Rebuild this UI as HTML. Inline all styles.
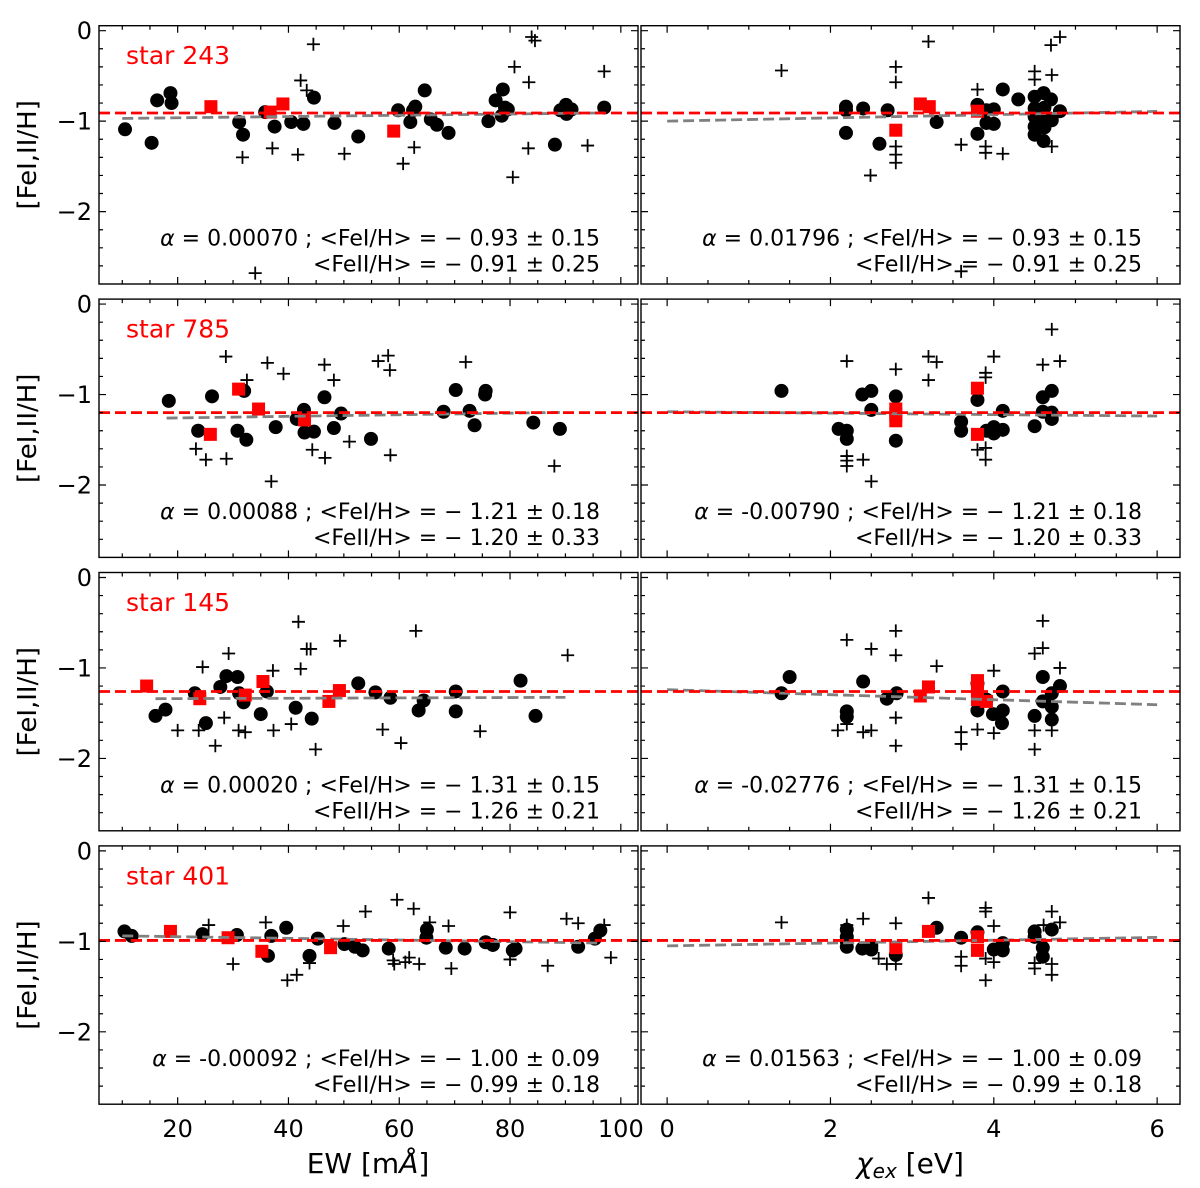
<!DOCTYPE html>
<html><head><meta charset="utf-8">
<style>
html,body{margin:0;padding:0;background:#fff;}
svg{display:block;font-family:"DejaVu Sans","Liberation Sans",sans-serif;}
</style></head>
<body>
<svg id="chart" width="1200" height="1188" viewBox="0 0 1200 1188" xmlns="http://www.w3.org/2000/svg"></svg>
<script>
// ---- data: star 243 ----
const p1_circX=[10.5,15.3,16.3,18.7,18.9,31.1,31.8,35.8,37.5,40.5,42.7,44.6,48.3,52.6,59.8,62.0,62.5,62.9,64.6,65.7,66.8,68.9,76.1,77.4,78.7,78.5,79.1,79.6,88.1,89.1,90.1,90.2,91.1,97];
const p1_circY=[-1.09,-1.24,-0.77,-0.69,-0.80,-1.01,-1.15,-0.90,-1.06,-1.01,-1.03,-0.74,-1.02,-1.17,-0.88,-1.01,-0.88,-0.84,-0.66,-0.98,-1.04,-1.13,-1.00,-0.77,-0.65,-0.94,-0.85,-0.87,-1.26,-0.88,-0.82,-0.92,-0.87,-0.85];
const p1_sqX=[26.0,36.7,39.0,59.0];
const p1_sqY=[-0.84,-0.90,-0.81,-1.11];
const p1_plX=[44.5,42.2,43.3,31.7,37.1,41.7,50.1,34.0,62.7,60.7,80.8,83.4,83.9,84.5,83.3,80.5,94.0,97];
const p1_plY=[-0.15,-0.55,-0.66,-1.40,-1.30,-1.37,-1.36,-2.68,-1.29,-1.47,-0.40,-0.57,-0.07,-0.11,-1.30,-1.62,-1.27,-0.45];
const p2_circX=[2.19,2.19,2.40,2.19,2.60,2.70,3.30,3.80,3.80,3.91,3.91,4.00,4.00,4.11,4.30,4.50,4.61,4.70,4.50,4.62,4.81,4.50,4.62,4.71,4.50,4.62,4.50,4.61,4.53];
const p2_circY=[-0.84,-0.88,-0.86,-1.13,-1.25,-0.88,-1.01,-0.82,-1.14,-0.88,-1.02,-0.87,-1.03,-0.65,-0.76,-0.73,-0.69,-0.76,-0.86,-0.85,-0.89,-0.95,-0.97,-0.99,-1.06,-1.07,-1.15,-1.22,-1.00];
const p2_sqX=[3.10,3.21,2.80,3.80];
const p2_sqY=[-0.81,-0.84,-1.10,-0.89];
const p2_plX=[1.40,2.80,2.80,2.80,2.80,2.80,2.49,3.20,3.60,3.80,3.90,3.90,4.11,3.60,4.50,4.50,4.70,4.81,4.71,4.71];
const p2_plY=[-0.44,-0.40,-0.57,-1.28,-1.37,-1.46,-1.60,-0.12,-1.26,-0.65,-1.28,-1.35,-1.36,-2.66,-0.45,-0.54,-0.16,-0.07,-0.49,-1.28];
// ---- star 785 ----
const p3_circX=[18.4,23.7,26.2,30.8,32.0,32.4,37.7,41.5,42.8,42.9,44.6,46.5,48.2,49.5,54.9,68.0,70.2,72.7,73.6,75.6,75.5,84.2,89.0];
const p3_circY=[-1.07,-1.40,-1.02,-1.40,-0.96,-1.50,-1.36,-1.27,-1.17,-1.42,-1.41,-1.03,-1.37,-1.21,-1.49,-1.19,-0.95,-1.18,-1.34,-0.96,-1.00,-1.31,-1.38];
const p3_sqX=[31.0,34.6,42.9,25.9];
const p3_sqY=[-0.94,-1.16,-1.28,-1.44];
const p3_plX=[28.7,32.5,36.2,39.1,46.5,48.2,56.2,58.0,58.3,72.0,23.3,25.1,28.8,36.9,44.3,46.6,51.0,58.4,88.0];
const p3_plY=[-0.58,-0.84,-0.65,-0.77,-0.67,-0.84,-0.63,-0.57,-0.73,-0.64,-1.60,-1.72,-1.71,-1.96,-1.61,-1.70,-1.52,-1.67,-1.79];
const p4_circX=[1.40,2.10,2.20,2.20,2.39,2.50,2.50,2.80,2.80,3.60,3.60,3.80,3.91,4.00,4.00,4.11,4.11,4.50,4.60,4.71,4.60,4.71,4.71];
const p4_circY=[-0.96,-1.38,-1.40,-1.49,-1.00,-0.96,-1.17,-1.02,-1.51,-1.30,-1.40,-1.06,-1.40,-1.36,-1.43,-1.39,-1.18,-1.35,-1.03,-0.96,-1.19,-1.20,-1.27];
const p4_sqX=[2.80,2.80,2.80,3.80,3.80];
const p4_sqY=[-1.16,-1.22,-1.29,-0.93,-1.44];
const p4_plX=[2.20,2.80,3.20,3.30,3.20,3.90,3.90,4.00,4.71,4.60,4.81,2.20,2.20,2.20,2.40,2.50,3.80,3.90,3.90];
const p4_plY=[-0.63,-0.72,-0.58,-0.64,-0.84,-0.76,-0.81,-0.58,-0.28,-0.67,-0.63,-1.68,-1.73,-1.79,-1.72,-1.96,-1.61,-1.59,-1.72];
// ---- star 145 ----
const p5_circX=[16.0,17.8,23.1,25.1,27.7,28.8,30.8,31.1,31.9,35.0,36.1,41.3,44.2,52.6,55.7,58.4,63.5,64.4,70.2,70.2,81.9,84.6];
const p5_circY=[-1.53,-1.46,-1.28,-1.61,-1.21,-1.09,-1.10,-1.28,-1.38,-1.51,-1.26,-1.44,-1.56,-1.17,-1.27,-1.33,-1.47,-1.36,-1.26,-1.48,-1.14,-1.53];
const p5_sqX=[14.4,24.0,32.2,35.4,47.3,49.2];
const p5_sqY=[-1.20,-1.34,-1.30,-1.15,-1.37,-1.25];
const p5_plX=[20.0,23.8,24.5,29.2,26.8,28.4,31.0,32.2,37.2,37.3,40.5,41.8,42.2,43.3,44.0,44.9,49.3,57.0,60.3,63.0,74.6,90.4];
const p5_plY=[-1.69,-1.69,-0.99,-0.84,-1.86,-1.55,-1.69,-1.71,-1.03,-1.69,-1.62,-0.49,-1.01,-0.79,-0.79,-1.90,-0.70,-1.68,-1.83,-0.59,-1.70,-0.86];
const p6_circX=[1.40,1.50,2.20,2.20,2.40,2.69,2.81,3.80,3.80,3.91,3.99,4.11,4.11,4.10,4.50,4.60,4.60,4.71,4.81,4.71,4.71];
const p6_circY=[-1.28,-1.10,-1.48,-1.54,-1.15,-1.34,-1.28,-1.17,-1.47,-1.35,-1.51,-1.26,-1.47,-1.61,-1.53,-1.10,-1.37,-1.28,-1.20,-1.43,-1.57];
const p6_sqX=[3.10,3.20,3.80,3.80,3.80,3.91];
const p6_sqY=[-1.31,-1.21,-1.14,-1.25,-1.35,-1.37];
const p6_plX=[2.20,2.09,2.20,2.50,2.40,2.50,2.80,2.80,2.80,2.80,3.30,3.60,3.60,3.80,4.00,4.00,4.50,4.60,4.60,4.50,4.50,4.71,4.81];
const p6_plY=[-0.69,-1.69,-1.62,-0.79,-1.71,-1.69,-0.59,-0.86,-1.55,-1.86,-0.98,-1.71,-1.84,-1.68,-1.03,-1.72,-0.84,-0.48,-0.78,-1.69,-1.90,-1.69,-1.00];
// ---- star 401 ----
const p7_circX=[10.4,11.7,24.5,30.7,36.9,36.3,39.6,43.8,45.3,50.1,52.0,53.4,58.1,65.0,64.9,68.4,71.8,75.6,76.9,80.5,81.0,92.3,95.3,96.3];
const p7_circY=[-0.89,-0.94,-0.92,-0.93,-0.94,-1.16,-0.85,-1.16,-0.97,-1.03,-1.06,-1.10,-1.08,-0.87,-0.96,-1.07,-1.08,-1.01,-1.04,-1.10,-1.08,-1.06,-0.97,-0.88];
const p7_sqX=[18.7,29.1,35.2,47.6];
const p7_sqY=[-0.89,-0.96,-1.11,-1.07];
const p7_plX=[25.6,30.0,35.9,39.8,41.5,43.8,49.9,53.9,59.6,58.9,59.1,61.1,61.8,63.6,62.6,65.5,68.9,69.4,80.0,80.0,86.8,90.2,92.3,97.0,98.2];
const p7_plY=[-0.82,-1.25,-0.79,-1.43,-1.37,-1.24,-0.83,-0.67,-0.54,-1.21,-1.25,-1.23,-1.18,-1.25,-0.64,-0.79,-0.83,-1.30,-0.68,-1.20,-1.27,-0.75,-0.80,-0.82,-1.18];
const p8_circX=[2.20,2.20,2.20,2.20,2.39,2.50,2.50,2.80,3.30,3.60,3.80,4.00,4.11,4.11,4.50,4.50,4.60,4.60,4.71];
const p8_circY=[-0.87,-0.95,-1.00,-1.06,-1.08,-1.09,-1.05,-1.15,-0.85,-0.96,-0.90,-1.09,-1.02,-1.10,-0.89,-0.95,-1.07,-1.17,-0.87];
const p8_sqX=[2.80,3.20,3.80,3.80];
const p8_sqY=[-1.07,-0.89,-0.95,-1.10];
const p8_plX=[1.40,2.20,2.40,2.59,2.69,2.80,2.80,3.20,3.60,3.60,3.90,3.90,4.00,3.90,3.90,4.00,4.50,4.50,4.71,4.61,4.81,4.71,4.71];
const p8_plY=[-0.79,-0.82,-0.75,-1.19,-1.25,-1.25,-0.80,-0.52,-1.17,-1.27,-0.63,-0.67,-0.83,-1.19,-1.43,-1.23,-1.24,-1.30,-0.67,-0.82,-0.79,-1.25,-1.37];
// fits / means / labels
const starNames=["star 243","star 785","star 145","star 401"];
const feIImean=[-0.91,-1.20,-1.26,-0.99];
const slopeEW=[0.00070,0.00088,0.00020,-0.00092];
const icptEW=[-0.977,-1.276,-1.343,-0.930];
const rangeEW=[[10,97],[18,89],[16,90],[10,96]];
const slopeChi=[0.01796,-0.00790,-0.02776,0.01563];
const icptChi=[-1.0,-1.19,-1.24,-1.05];
const alphaEWLabel=["0.00070","0.00088","0.00020","-0.00092"];
const alphaChiLabel=["0.01796","-0.00790","-0.02776","0.01563"];
const feILabel=["0.93 ± 0.15","1.21 ± 0.18","1.31 ± 0.15","1.00 ± 0.09"];
const feIILabel=["0.91 ± 0.25","1.20 ± 0.33","1.26 ± 0.21","0.99 ± 0.18"];
const ewTicks=[20,40,60,80,100];
const chiTicks=[0,2,4,6];
const yTicks=[0,-1,-2];

const NS="http://www.w3.org/2000/svg";
const svg=document.getElementById('chart');
function mk(tag,attrs,parent){const e=document.createElementNS(NS,tag);for(const k in attrs)e.setAttribute(k,attrs[k]);(parent||svg).appendChild(e);return e;}

const ROW_TOP=25.7, ROW_PITCH=273.4, ROW_H=258.3;
const LEFT={x0:99,x1:638,d0:5.8,d1:103.1,major:20,minor:5,ticks:ewTicks};
const RIGHT={x0:641,x1:1180,d0:-0.32,d1:6.28,major:2,minor:0.5,ticks:chiTicks};
const Y0=0.055, Y1=-2.8;

const panels=[
 [p1_circX,p1_circY,p1_sqX,p1_sqY,p1_plX,p1_plY],[p2_circX,p2_circY,p2_sqX,p2_sqY,p2_plX,p2_plY],
 [p3_circX,p3_circY,p3_sqX,p3_sqY,p3_plX,p3_plY],[p4_circX,p4_circY,p4_sqX,p4_sqY,p4_plX,p4_plY],
 [p5_circX,p5_circY,p5_sqX,p5_sqY,p5_plX,p5_plY],[p6_circX,p6_circY,p6_sqX,p6_sqY,p6_plX,p6_plY],
 [p7_circX,p7_circY,p7_sqX,p7_sqY,p7_plX,p7_plY],[p8_circX,p8_circY,p8_sqX,p8_sqY,p8_plX,p8_plY]];

for(let r=0;r<4;r++){
 for(let c=0;c<2;c++){
  const ax=c===0?LEFT:RIGHT;
  const top=ROW_TOP+r*ROW_PITCH, bot=top+ROW_H;
  const sx=v=>ax.x0+(v-ax.d0)/(ax.d1-ax.d0)*(ax.x1-ax.x0);
  const sy=v=>top+(Y0-v)/(Y0-Y1)*(bot-top);
  const g=mk('g',{});
  
  
  const clip=mk('clipPath',{id:'clip'+r+c},g);
  mk('rect',{x:ax.x0,y:top,width:ax.x1-ax.x0,height:bot-top},clip);
  const d=panels[r*2+c];
  const pg=mk('g',{'clip-path':'url(#clip'+r+c+')'},g);
  for(let i=0;i<d[0].length;i++){
   const e=mk('circle',{cx:sx(d[0][i]),cy:sy(d[1][i]),r:7,fill:'#000'},pg);
   
   
  }
  for(let i=0;i<d[4].length;i++){
   const x=sx(d[4][i]),y=sy(d[5][i]);
   const e=mk('path',{d:`M${x-6.5},${y}H${x+6.5}M${x},${y-6.5}V${y+6.5}`,stroke:'#000','stroke-width':1.8,fill:'none'},pg);
   
   
  }
  for(let i=0;i<d[2].length;i++){
   const e=mk('rect',{x:sx(d[2][i])-6.5,y:sy(d[3][i])-6.5,width:13,height:13,fill:'#ff0000'},pg);
   
   
  }
  let xa,xb,ya,yb;
  if(c===0){xa=rangeEW[r][0];xb=rangeEW[r][1];ya=icptEW[r]+slopeEW[r]*xa;yb=icptEW[r]+slopeEW[r]*xb;}
  else{xa=0;xb=6;ya=icptChi[r];yb=icptChi[r]+slopeChi[r]*6;}
  const fl=mk('line',{x1:sx(xa),y1:sy(ya),x2:sx(xb),y2:sy(yb),stroke:'#808080','stroke-width':2.8,'stroke-dasharray':'11,5'},pg);
  
  
  const ml=mk('line',{x1:ax.x0,y1:sy(feIImean[r]),x2:ax.x1,y2:sy(feIImean[r]),stroke:'#ff0000','stroke-width':2.8,'stroke-dasharray':'11,5'},pg);
  
  
  const fr=mk('rect',{x:ax.x0,y:top,width:ax.x1-ax.x0,height:bot-top,fill:'none',stroke:'#000','stroke-width':1.4},g);
  
  
  let tp='';
  for(let v=Math.ceil(ax.d0/ax.minor)*ax.minor;v<=ax.d1+1e-9;v+=ax.minor){
   const isMaj=Math.abs(v/ax.major-Math.round(v/ax.major))<1e-6;
   const L=isMaj?7:4,x=sx(v);
   tp+=`M${x},${bot}V${bot-L}M${x},${top}V${top+L}`;
  }
  for(let v=0;v>=-2.8;v-=0.2){
   const isMaj=Math.abs(v-Math.round(v))<1e-6;
   const L=isMaj?7:4,y=sy(v);
   tp+=`M${ax.x0},${y}H${ax.x0+L}M${ax.x1},${y}H${ax.x1-L}`;
  }
  mk('path',{d:tp,stroke:'#000','stroke-width':1.2,fill:'none'},g);
  if(c===0){
   for(const v of yTicks){
    const t=mk('text',{x:ax.x0-7,y:sy(v)+8.5,'text-anchor':'end','font-size':24,fill:'#000'},g);
    t.textContent=v===0?'0':'−'+Math.abs(v);
    
    
   }
   const st=mk('text',{x:126,y:top+38.5,'font-size':25,fill:'#ff0000'},g);
   st.textContent=starNames[r];
   
   
  }
  if(r===3){
   for(const v of ax.ticks){
    const t=mk('text',{x:sx(v),y:bot+33,'text-anchor':'middle','font-size':24,fill:'#000'},g);
    t.textContent=String(v);
    
    
   }
  }
  const a1=mk('text',{x:ax.x1-38,y:top+220,'text-anchor':'end','font-size':22,fill:'#000'},g);
  a1.innerHTML='<tspan font-style="italic">α</tspan> = '+(c===0?alphaEWLabel[r]:alphaChiLabel[r])+' ; &lt;FeI/H&gt; = − '+feILabel[r];
  
  
  const a2=mk('text',{x:ax.x1-38,y:top+246,'text-anchor':'end','font-size':22,fill:'#000'},g);
  a2.textContent='<FeII/H> = − '+feIILabel[r];
  
  
 }
 const yl=mk('text',{x:0,y:0,'text-anchor':'middle','font-size':26,fill:'#000',transform:`translate(36,${ROW_TOP+r*ROW_PITCH+ROW_H/2}) rotate(-90)`});
 yl.textContent='[FeI,II/H]';
 
 
}
const xl1=mk('text',{x:368,y:1173,'text-anchor':'middle','font-size':28,fill:'#000'});
xl1.innerHTML='EW [m<tspan font-style="italic">Å</tspan>]';


const xl2=mk('text',{x:910,y:1173,'text-anchor':'middle','font-size':28,fill:'#000'});
xl2.innerHTML='<tspan font-style="italic">χ</tspan><tspan font-style="italic" font-size="20" dy="5">ex</tspan><tspan dy="-5"> [eV]</tspan>';


</script>
</body></html>
